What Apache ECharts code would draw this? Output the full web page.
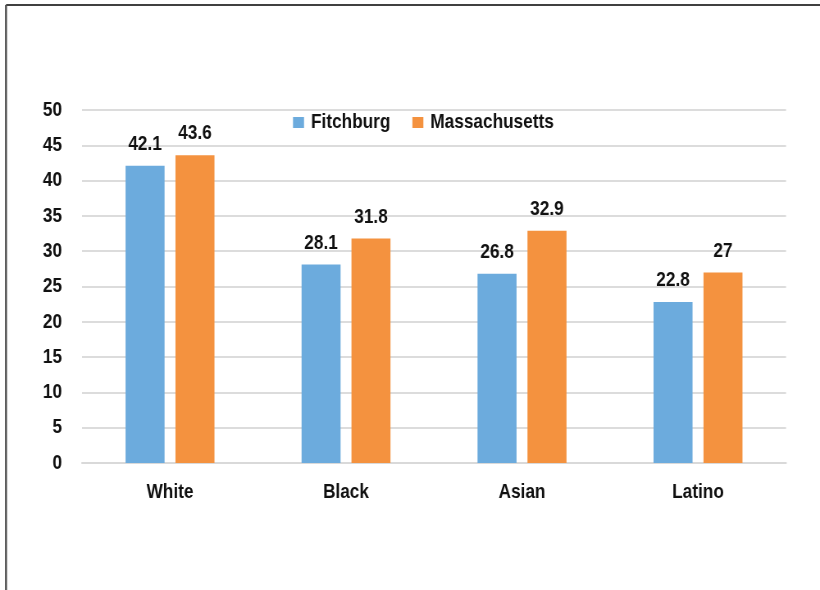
<!DOCTYPE html>
<html>
<head>
<meta charset="utf-8">
<script src="https://cdn.jsdelivr.net/npm/echarts@6/dist/echarts.min.js"></script>
<style>
html,body{margin:0;padding:0;background:#fff;overflow:hidden;}
#wrap{width:820px;height:590px;overflow:hidden;}
#chart{width:1000px;height:590px;transform:scaleX(0.82);transform-origin:0 0;}
</style>
</head>
<body>
<div id="wrap"><div id="chart"></div></div>
<script>
var categories = ['White', 'Black', 'Asian', 'Latino'];
var fitchburg = [42.1, 28.1, 26.8, 22.8];
var massachusetts = [43.6, 31.8, 32.9, 27];
var seriesNames = ['Fitchburg', 'Massachusetts'];

// Text in the reference is a condensed bold face; the chart is drawn 1000px wide
// and squeezed horizontally by 0.82 so Liberation Sans Bold looks condensed.
var SX = 0.82;
function X(v) { return v / SX; }

var FONT = '"Liberation Sans", Arial, sans-serif';
var chart = echarts.init(document.getElementById('chart'), null, {renderer: 'canvas'});
var labelStyle = {
  show: true, position: 'top', distance: 11,
  color: '#111', fontFamily: FONT, fontWeight: 'bold', fontSize: 21
};
chart.setOption({
  animation: false,
  backgroundColor: '#fff',
  graphic: [
    {type: 'line', shape: {x1: X(6), y1: 5, x2: 1000, y2: 5}, style: {stroke: '#404040', lineWidth: 2}},
    {type: 'line', shape: {x1: X(6), y1: 5, x2: X(6), y2: 590}, style: {stroke: '#505050', lineWidth: X(2)}}
  ],
  legend: {
    data: seriesNames,
    left: X(293), top: 112, padding: 0,
    itemWidth: X(11), itemHeight: 11, itemGap: X(22),
    icon: 'rect',
    textStyle: {fontFamily: FONT, fontWeight: 'bold', fontSize: 21, color: '#111', padding: [0, 0, 0, 3.5]}
  },
  grid: {left: X(82), right: X(34), top: 110, bottom: 127, containLabel: false},
  xAxis: {
    type: 'category', data: categories,
    axisLine: {show: true, lineStyle: {color: '#d9d9d9', width: 2}},
    axisTick: {show: false},
    axisLabel: {margin: 19, fontFamily: FONT, fontWeight: 'bold', fontSize: 21, color: '#111'}
  },
  yAxis: {
    type: 'value', min: 0, max: 50, interval: 5,
    axisLine: {show: false}, axisTick: {show: false},
    splitLine: {lineStyle: {color: '#dcdcdc', width: 2}},
    axisLabel: {margin: X(20), fontFamily: FONT, fontWeight: 'bold', fontSize: 21, color: '#111'}
  },
  series: [
    {name: seriesNames[0], type: 'bar', data: fitchburg, barWidth: X(39), barGap: '28%',
     itemStyle: {color: '#6CABDD'}, label: labelStyle},
    {name: seriesNames[1], type: 'bar', data: massachusetts, barWidth: X(39),
     itemStyle: {color: '#F4923F'}, label: labelStyle}
  ]
});
</script>
</body>
</html>
